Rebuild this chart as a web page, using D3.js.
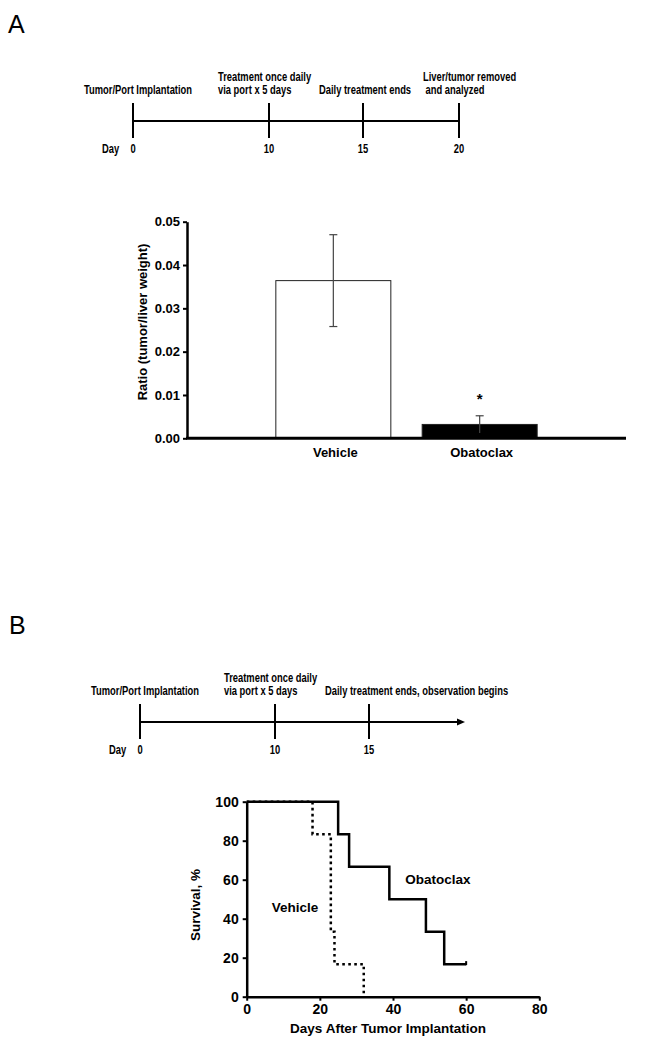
<!DOCTYPE html>
<html>
<head>
<meta charset="utf-8">
<script src="https://cdn.jsdelivr.net/npm/d3@7"></script>
<style>
body { margin: 0; background: #fff; }
text { font-family: "Liberation Sans", Arial, sans-serif; fill: #000; }
</style>
</head>
<body>
<div id="chart"></div>
<script>
// timelines (days + labels)
var timelineDaysA = [0, 10, 15, 20];
var timelineTextA = [["Tumor/Port Implantation"], ["Treatment once daily", "via port x 5 days"], ["Daily treatment ends"], ["Liver/tumor removed", " and analyzed"]];
var timelineDaysB = [0, 10, 15];
var timelineTextB = [["Tumor/Port Implantation"], ["Treatment once daily", "via port x 5 days"], ["Daily treatment ends, observation begins"]];

// panel A bar chart
var groups = ["Vehicle", "Obatoclax"];
var ratioMean = [0.0364, 0.0032];
var ratioErr = [0.0106, 0.0020];
var ratioTicks = [0, 0.01, 0.02, 0.03, 0.04, 0.05];

// panel B survival
var obatoclaxDays = [0, 25, 28, 39, 49, 54, 60];
var obatoclaxSurv = [100, 83.3, 66.7, 50, 33.3, 16.7, 16.7];
var vehicleDays = [0, 18, 23, 24, 32];
var vehicleSurv = [100, 83.3, 33.3, 16.7, 0];
var survTicksX = [0, 20, 40, 60, 80];
var survTicksY = [0, 20, 40, 60, 80, 100];

var width = 663, height = 1050;
var narrow = 0.75; // timeline text is condensed

var svg = d3.select("#chart")
	.append("svg")
		.attr("width", width)
		.attr("height", height);

// panel letters
svg.append("text").text("A").attr("x", 8).attr("y", 33).attr("font-size", 25);
svg.append("text").text("B").attr("x", 9).attr("y", 634).attr("font-size", 25);

function timeline(days, labels, range, lineY, arrow) {
	var x = d3.scaleLinear().domain([0, 10, 15, 20]).range(range);
	var offsets = [-49, -51, -44, -36];
	var g = svg.append("g");
	var endX = x(20);

	g.append("line")
		.attr("x1", x(0)).attr("x2", arrow ? endX - 6 : endX)
		.attr("y1", lineY).attr("y2", lineY)
		.attr("stroke", "#000").attr("stroke-width", 2);
	if (arrow) {
		g.append("path")
			.attr("d", "M" + endX + "," + lineY + "l-8,-3.5v7z")
			.attr("fill", "#000");
	}

	g.selectAll(".tk")
		.data(days)
		.enter()
		.append("line")
		.attr("x1", function(d) { return x(d); })
		.attr("x2", function(d) { return x(d); })
		.attr("y1", lineY - 18)
		.attr("y2", lineY + 17)
		.attr("stroke", "#000")
		.attr("stroke-width", 2);

	g.selectAll(".num")
		.data(days)
		.enter()
		.append("text")
		.text(function(d) { return d; })
		.attr("transform", function(d) { return "translate(" + x(d) + "," + (lineY + 32) + ") scale(" + narrow + ",1)"; })
		.attr("text-anchor", "middle")
		.attr("font-size", 12.5)
		.attr("font-weight", "bold");

	g.append("text")
		.text("Day")
		.attr("transform", "translate(" + (x(0) - 31) + "," + (lineY + 32) + ") scale(" + narrow + ",1)")
		.attr("font-size", 12.5)
		.attr("font-weight", "bold");

	labels.forEach(function(lines, i) {
		lines.forEach(function(s, j) {
			var yy = lineY - 27 - (lines.length - 1 - j) * 13;
			g.append("text")
				.text(s)
				.attr("xml:space", "preserve")
				.attr("transform", "translate(" + (x(days[i]) + offsets[i]) + "," + yy + ") scale(" + narrow + ",1)")
				.attr("font-size", 12.5)
				.attr("font-weight", "bold");
		});
	});
}

timeline(timelineDaysA, timelineTextA, [133, 269, 363, 459], 121, false);
timeline(timelineDaysB, timelineTextB, [140, 275, 369, 465], 722, true);

// ---- bar chart ----
var barY = d3.scaleLinear().domain([0, 0.05]).range([438.3, 221.7]);
var barX = d3.scalePoint().domain(groups).range([187, 626]).padding(1);
var barW = 115;

var barG = svg.append("g");

barG.selectAll("rect")
	.data(groups)
	.enter()
	.append("rect")
	.attr("x", function(d) { return barX(d) - barW / 2; })
	.attr("y", function(d, i) { return barY(ratioMean[i]); })
	.attr("width", barW)
	.attr("height", function(d, i) { return barY(0) - barY(ratioMean[i]); })
	.attr("fill", function(d, i) { return i == 0 ? "#fff" : "#000"; })
	.attr("stroke", "#222")
	.attr("stroke-width", 1);

// error bars
groups.forEach(function(d, i) {
	var cx = barX(d);
	var top = barY(ratioMean[i] + ratioErr[i]);
	var bot = barY(ratioMean[i] - ratioErr[i]);
	barG.append("line")
		.attr("x1", cx).attr("x2", cx)
		.attr("y1", top).attr("y2", bot)
		.attr("stroke", "#444").attr("stroke-width", 1.2);
	barG.append("line")
		.attr("x1", cx - 4).attr("x2", cx + 4)
		.attr("y1", top).attr("y2", top)
		.attr("stroke", "#444").attr("stroke-width", 1.2);
	if (i == 0) {
		barG.append("line")
			.attr("x1", cx - 4).attr("x2", cx + 4)
			.attr("y1", bot).attr("y2", bot)
			.attr("stroke", "#444").attr("stroke-width", 1.2);
	}
});

// significance
barG.append("text")
	.text("*")
	.attr("x", barX("Obatoclax"))
	.attr("y", barY(ratioMean[1] + ratioErr[1]) - 12)
	.attr("text-anchor", "middle")
	.attr("font-size", 15)
	.attr("font-weight", "bold");

var yAxisA = barG.append("g")
	.attr("transform", "translate(187,0)")
	.call(d3.axisLeft(barY).tickValues(ratioTicks).tickFormat(d3.format(".2f")).tickSize(4).tickSizeOuter(0).tickPadding(3));
yAxisA.select(".domain").attr("stroke-width", 2.5);
yAxisA.selectAll(".tick line").attr("stroke-width", 2);
yAxisA.selectAll("text").attr("font-size", 13).attr("font-weight", "bold").attr("font-family", null);

barG.append("line")
	.attr("x1", 186).attr("x2", 626)
	.attr("y1", barY(0)).attr("y2", barY(0))
	.attr("stroke", "#000").attr("stroke-width", 3);

barG.selectAll(".xl")
	.data(groups)
	.enter()
	.append("text")
	.text(function(d) { return d; })
	.attr("x", function(d) { return barX(d) + 2; })
	.attr("y", 457)
	.attr("text-anchor", "middle")
	.attr("font-size", 13)
	.attr("font-weight", "bold");

barG.append("text")
	.text("Ratio (tumor/liver weight)")
	.attr("transform", "translate(147,322) rotate(-90)")
	.attr("text-anchor", "middle")
	.attr("font-size", 13)
	.attr("font-weight", "bold");

// ---- survival chart ----
var sx = d3.scaleLinear().domain([0, 80]).range([246.7, 539.3]);
var sy = d3.scaleLinear().domain([0, 100]).range([996.7, 801.7]);

var survG = svg.append("g");

var step = d3.line()
	.x(function(d) { return sx(d[0]); })
	.y(function(d) { return sy(d[1]); })
	.curve(d3.curveStepAfter);

survG.append("path")
	.datum(d3.zip(vehicleDays, vehicleSurv))
	.attr("d", step)
	.attr("fill", "none")
	.attr("stroke", "#000")
	.attr("stroke-width", 2.5)
	.attr("stroke-dasharray", "2.6,3.4");

survG.append("path")
	.datum(d3.zip(obatoclaxDays, obatoclaxSurv))
	.attr("d", step)
	.attr("fill", "none")
	.attr("stroke", "#000")
	.attr("stroke-width", 2.5);

// censor tick at end
var lastDay = obatoclaxDays[obatoclaxDays.length - 1];
var lastSurv = obatoclaxSurv[obatoclaxSurv.length - 1];
survG.append("line")
	.attr("x1", sx(lastDay)).attr("x2", sx(lastDay))
	.attr("y1", sy(lastSurv) + 1).attr("y2", sy(lastSurv) - 3)
	.attr("stroke", "#000").attr("stroke-width", 2);

var xAxisB = survG.append("g")
	.attr("transform", "translate(0," + sy(0) + ")")
	.call(d3.axisBottom(sx).tickValues(survTicksX).tickSize(4).tickSizeOuter(0).tickPadding(3));
var yAxisB = survG.append("g")
	.attr("transform", "translate(" + sx(0) + ",0)")
	.call(d3.axisLeft(sy).tickValues(survTicksY).tickSize(4).tickSizeOuter(0).tickPadding(4));
[xAxisB, yAxisB].forEach(function(a) {
	a.select(".domain").attr("stroke-width", 2.5);
	a.selectAll(".tick line").attr("stroke-width", 2);
	a.selectAll("text").attr("font-size", 14).attr("font-weight", "bold").attr("font-family", null);
});

survG.append("text")
	.text("Days After Tumor Implantation")
	.attr("x", 388)
	.attr("y", 1033)
	.attr("text-anchor", "middle")
	.attr("font-size", 13.5)
	.attr("font-weight", "bold");

survG.append("text")
	.text("Survival, %")
	.attr("transform", "translate(200,905) rotate(-90)")
	.attr("text-anchor", "middle")
	.attr("font-size", 13.5)
	.attr("font-weight", "bold");

survG.append("text")
	.text("Obatoclax")
	.attr("x", 438)
	.attr("y", 884)
	.attr("text-anchor", "middle")
	.attr("font-size", 13.5)
	.attr("font-weight", "bold");

survG.append("text")
	.text("Vehicle")
	.attr("x", 295)
	.attr("y", 912)
	.attr("text-anchor", "middle")
	.attr("font-size", 13.5)
	.attr("font-weight", "bold");
</script>
</body>
</html>
